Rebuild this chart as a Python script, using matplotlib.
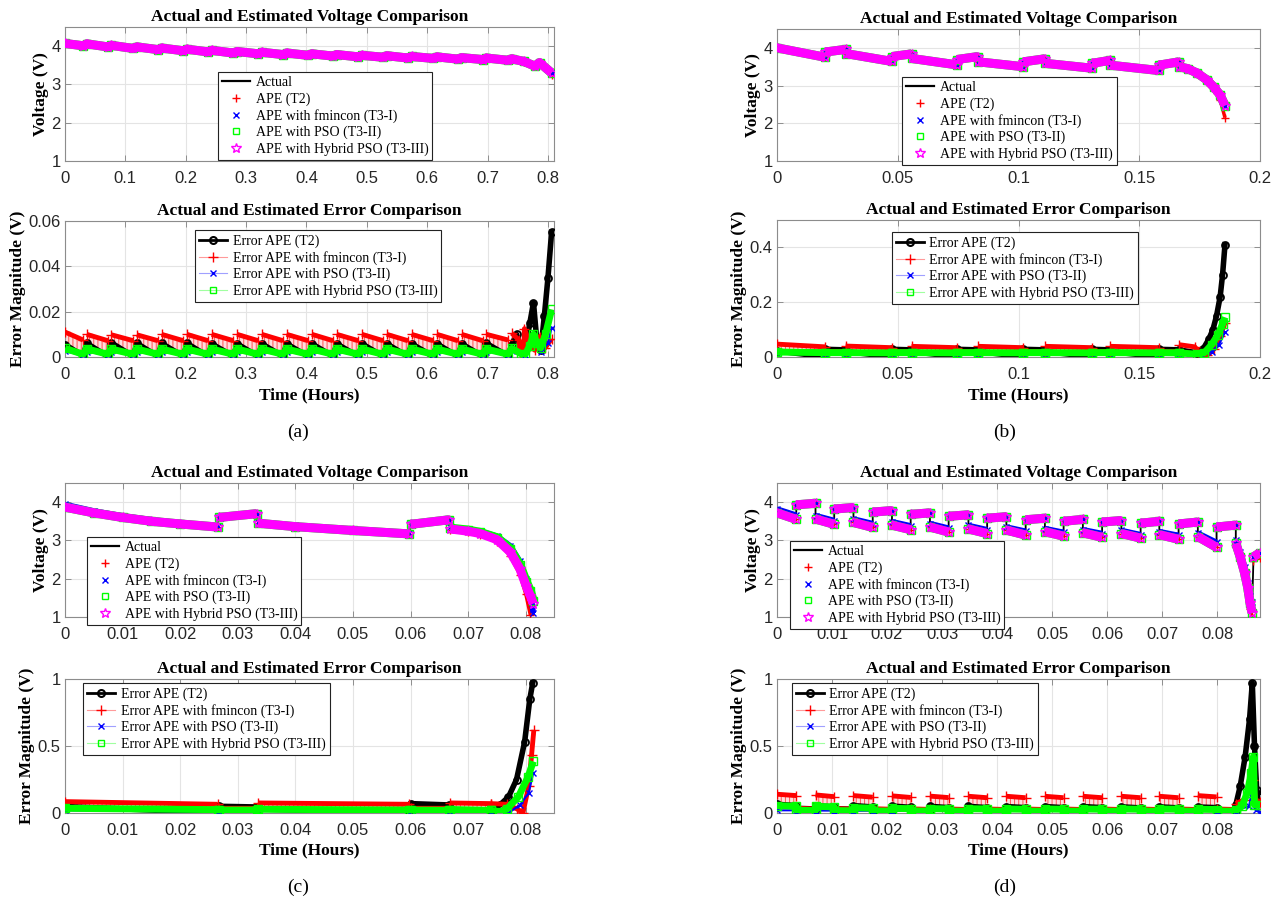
import numpy as np
import matplotlib
matplotlib.use("Agg")
import matplotlib.pyplot as plt
from matplotlib.lines import Line2D
from matplotlib.ticker import FormatStrFormatter

plt.rcParams['font.family'] = ['Liberation Sans', 'DejaVu Sans']
plt.rcParams['hatch.linewidth'] = 0.7
SERIF = ['Liberation Serif', 'DejaVu Serif']
RED, BLUE, GREEN, MAG = '#ff0000', '#0000ff', '#00ff00', '#ff00ff'

# ---------------- (a) 0.8 h test ----------------
a_pk_t = [0.000, 0.036, 0.077, 0.119, 0.160, 0.202, 0.243, 0.285, 0.326, 0.367,
          0.409, 0.450, 0.492, 0.533, 0.574, 0.616, 0.657, 0.698, 0.740]
a_vl_t = [0.030, 0.071, 0.113, 0.154, 0.196, 0.237, 0.279, 0.320, 0.361, 0.403,
          0.444, 0.486, 0.527, 0.568, 0.610, 0.651, 0.692, 0.734]
a_pk_v = [4.07, 4.06, 4.02, 3.98, 3.95, 3.92, 3.89, 3.86, 3.84, 3.82,
          3.80, 3.78, 3.76, 3.75, 3.73, 3.72, 3.70, 3.69, 3.67]
a_vl_v = [4.01, 3.98, 3.94, 3.91, 3.88, 3.85, 3.82, 3.80, 3.78, 3.76,
          3.74, 3.72, 3.71, 3.69, 3.68, 3.66, 3.65, 3.63]
a_tail_t = [0.760, 0.778, 0.786, 0.806]
a_tail_v = [3.60, 3.48, 3.57, 3.30]
a_tail_r = [3.59, 3.47, 3.55, 3.24]

a_blk_pk = [0.0055, 0.0060, 0.0062, 0.0060, 0.0060, 0.0060, 0.0058, 0.0058, 0.0058, 0.0058,
            0.0058, 0.0058, 0.0058, 0.0058, 0.0058, 0.0058, 0.0058, 0.0060, 0.0055]
a_blk_vl = [0.0005, 0.0003, 0.0003, 0.0003, 0.0003, 0.0003, 0.0003, 0.0003, 0.0003,
            0.0003, 0.0003, 0.0003, 0.0003, 0.0003, 0.0003, 0.0003, 0.0003, 0.0005]
a_red_hi0 = [0.0110, 0.0100, 0.0098, 0.0098, 0.0100, 0.0100, 0.0100, 0.0100, 0.0100,
             0.0100, 0.0100, 0.0100, 0.0100, 0.0100, 0.0100, 0.0100, 0.0100, 0.0100]
a_red_hi1 = [0.0075, 0.0072, 0.0072, 0.0072, 0.0072, 0.0072, 0.0072, 0.0072, 0.0072,
             0.0072, 0.0072, 0.0072, 0.0072, 0.0072, 0.0072, 0.0072, 0.0072, 0.0075]
a_red_lo = [0.0030, 0.0028, 0.0028, 0.0028, 0.0028, 0.0028, 0.0028, 0.0028, 0.0028,
            0.0028, 0.0028, 0.0028, 0.0028, 0.0028, 0.0028, 0.0028, 0.0028, 0.0030]
a_grn_pk = [0.0038, 0.0036, 0.0035, 0.0035, 0.0035, 0.0035, 0.0035, 0.0035, 0.0035, 0.0035,
            0.0035, 0.0035, 0.0035, 0.0035, 0.0035, 0.0035, 0.0035, 0.0035, 0.0038]
a_grn_vl = [0.0012, 0.0012, 0.0012, 0.0012, 0.0012, 0.0012, 0.0012, 0.0012, 0.0012,
            0.0012, 0.0012, 0.0012, 0.0012, 0.0012, 0.0012, 0.0012, 0.0012, 0.0012]
a_blu_pk = [0.0025, 0.0024, 0.0024, 0.0024, 0.0024, 0.0024, 0.0024, 0.0024, 0.0024, 0.0024,
            0.0024, 0.0024, 0.0024, 0.0024, 0.0024, 0.0024, 0.0024, 0.0024, 0.0025]
a_blu_vl = [0.0008, 0.0008, 0.0008, 0.0008, 0.0008, 0.0008, 0.0008, 0.0008, 0.0008,
            0.0008, 0.0008, 0.0008, 0.0008, 0.0008, 0.0008, 0.0008, 0.0008, 0.0008]
a_blk_tail_t = [0.748, 0.756, 0.764, 0.770, 0.776, 0.782, 0.788, 0.794, 0.800, 0.806]
a_blk_tail_v = [0.0100, 0.0030, 0.0060, 0.0150, 0.0240, 0.0060, 0.0030, 0.0180, 0.0350, 0.0550]
a_red_tail_t = [0.740, 0.752, 0.753, 0.760, 0.761, 0.770, 0.778, 0.786, 0.795, 0.806]
a_red_tail_v = [0.0105, 0.0075, 0.0020, 0.0040, 0.0125, 0.0060, 0.0030, 0.0090, 0.0040, 0.0080]
a_grn_tail_t = [0.755, 0.762, 0.770, 0.776, 0.782, 0.788, 0.796, 0.806]
a_grn_tail_v = [0.0015, 0.0010, 0.0050, 0.0100, 0.0060, 0.0040, 0.0100, 0.0210]
a_blu_tail_t = [0.762, 0.776, 0.788, 0.800, 0.806]
a_blu_tail_v = [0.0010, 0.0070, 0.0020, 0.0060, 0.0130]

# ---------------- (b) 0.2 h test ----------------
b_t0 = [0.0000, 0.0200, 0.0284, 0.0476, 0.0557, 0.0744, 0.0833, 0.1020, 0.1110, 0.1305, 0.1380, 0.1580]
b_t1 = [0.0200, 0.0284, 0.0476, 0.0557, 0.0744, 0.0833, 0.1020, 0.1110, 0.1305, 0.1380, 0.1580, 0.1665]
b_v0 = [4.00, 3.89, 3.85, 3.77, 3.72, 3.69, 3.63, 3.63, 3.59, 3.59, 3.54, 3.54]
b_v1 = [3.75, 3.96, 3.64, 3.84, 3.55, 3.77, 3.50, 3.71, 3.46, 3.67, 3.40, 3.63]
b_tail_t = [0.1665, 0.1700, 0.1740, 0.1780, 0.1810, 0.1835, 0.1855]
b_tail_v = [3.50, 3.45, 3.33, 3.15, 2.95, 2.75, 2.47]
b_tail_r = [3.49, 3.43, 3.30, 3.10, 2.88, 2.62, 2.15]

b_blk0 = [0.022, 0.028, 0.020, 0.028, 0.020, 0.028, 0.020, 0.028, 0.020, 0.028, 0.020, 0.028]
b_blk1 = [0.001, 0.026, 0.001, 0.026, 0.001, 0.026, 0.001, 0.026, 0.001, 0.026, 0.001, 0.026]
b_red0 = [0.047, 0.020, 0.040, 0.020, 0.039, 0.020, 0.039, 0.020, 0.039, 0.020, 0.039, 0.020]
b_red1 = [0.037, 0.020, 0.034, 0.020, 0.034, 0.020, 0.034, 0.020, 0.034, 0.020, 0.034, 0.020]
b_redlo = [0.022, 0.020, 0.022, 0.020, 0.022, 0.020, 0.022, 0.020, 0.022, 0.020, 0.022, 0.020]
b_grn0 = [0.018, 0.016, 0.016, 0.016, 0.016, 0.016, 0.016, 0.016, 0.016, 0.016, 0.016, 0.016]
b_grn1 = [0.016, 0.016, 0.015, 0.016, 0.015, 0.016, 0.015, 0.016, 0.015, 0.016, 0.015, 0.015]
b_blu0 = [0.013, 0.012, 0.012, 0.012, 0.012, 0.012, 0.012, 0.012, 0.012, 0.012, 0.012, 0.012]
b_blu1 = [0.011, 0.012, 0.011, 0.012, 0.011, 0.012, 0.011, 0.012, 0.011, 0.012, 0.011, 0.012]
b_blk_tail_t = [0.1665, 0.1740, 0.1765, 0.1788, 0.1805, 0.1820, 0.1835, 0.1845, 0.1855]
b_blk_tail_v = [0.026, 0.015, 0.030, 0.065, 0.100, 0.150, 0.220, 0.300, 0.410]
b_red_tail_t = [0.1665, 0.1730, 0.1745, 0.1780, 0.1810, 0.1835, 0.1855]
b_red_tail_v = [0.045, 0.037, 0.020, 0.006, 0.030, 0.075, 0.125]
b_grn_tail_t = [0.1665, 0.1740, 0.1770, 0.1800, 0.1825, 0.1845, 0.1855]
b_grn_tail_v = [0.015, 0.010, 0.016, 0.045, 0.080, 0.120, 0.145]
b_blu_tail_t = [0.1665, 0.1760, 0.1800, 0.1830, 0.1855]
b_blu_tail_v = [0.012, 0.006, 0.020, 0.045, 0.090]

# ---------------- (c) 0.08 h test, two long pulses ----------------
c_d1_t = [0.0000, 0.0050, 0.0100, 0.0150, 0.0200, 0.0265]
c_d1_v = [3.87, 3.72, 3.60, 3.50, 3.43, 3.35]
c_d1_a = [3.94, 3.77, 3.64, 3.54, 3.46, 3.38]
c_r1_t = [0.0267, 0.0333]
c_r1_v = [3.60, 3.70]
c_d2_t = [0.0335, 0.0400, 0.0500, 0.0598]
c_d2_v = [3.45, 3.36, 3.26, 3.17]
c_d2_a = [3.48, 3.39, 3.29, 3.20]
c_r2_t = [0.0600, 0.0667]
c_r2_v = [3.42, 3.54]
c_d3_t = [0.0669, 0.0700, 0.0721, 0.0750, 0.0773, 0.0790, 0.0801, 0.0808, 0.0813]
c_d3_v = [3.30, 3.24, 3.18, 3.02, 2.70, 2.25, 1.80, 1.55, 1.35]
c_d3_a = [3.34, 3.29, 3.24, 3.11, 2.86, 2.45, 2.00, 1.70, 1.10]
c_d3_g = [3.32, 3.27, 3.21, 3.07, 2.78, 2.35, 1.92, 1.68, 1.42]
c_d3_rt = [0.0669, 0.0700, 0.0721, 0.0750, 0.0773, 0.0790, 0.0800, 0.0808]
c_d3_r = [3.28, 3.22, 3.15, 2.97, 2.60, 2.10, 1.60, 1.05]

c_s0 = [0.0000, 0.0267, 0.0335, 0.0600, 0.0669]
c_s1 = [0.0265, 0.0333, 0.0598, 0.0667, 0.0740]
c_blk0 = [0.048, 0.050, 0.030, 0.070, 0.012]
c_blk1 = [0.002, 0.045, 0.002, 0.060, 0.020]
c_red0 = [0.085, 0.035, 0.075, 0.035, 0.075]
c_red1 = [0.065, 0.035, 0.065, 0.035, 0.070]
c_redlo = [0.045, 0.035, 0.045, 0.035, 0.045]
c_grn0 = [0.035, 0.022, 0.028, 0.022, 0.026]
c_grn1 = [0.025, 0.022, 0.022, 0.020, 0.020]
c_blu0 = [0.020, 0.015, 0.015, 0.015, 0.015]
c_blu1 = [0.010, 0.012, 0.010, 0.012, 0.010]
c_blk_tail_t = [0.0740, 0.0755, 0.0770, 0.0784, 0.0798, 0.0807, 0.0812]
c_blk_tail_v = [0.020, 0.060, 0.120, 0.250, 0.530, 0.850, 0.970]
c_red_tail_t = [0.0740, 0.0767, 0.0785, 0.0795, 0.0805, 0.0810, 0.0814]
c_red_tail_v = [0.070, 0.065, 0.030, 0.000, 0.200, 0.430, 0.620]
c_grn_tail_t = [0.0740, 0.0755, 0.0767, 0.0787, 0.0804, 0.0813]
c_grn_tail_v = [0.020, 0.008, 0.030, 0.120, 0.270, 0.385]
c_blu_tail_t = [0.0740, 0.0770, 0.0790, 0.0805, 0.0813]
c_blu_tail_v = [0.010, 0.000, 0.060, 0.150, 0.300]

# ---------------- (d) 0.088 h test, short pulses ----------------
d_lo_start = [0.0000, 0.0070, 0.0139, 0.0209, 0.0278, 0.0348, 0.0417, 0.0487, 0.0556, 0.0626, 0.0695, 0.0765]
d_up = [0.0035, 0.0104, 0.0174, 0.0243, 0.0312, 0.0382, 0.0452, 0.0521, 0.0591, 0.0661, 0.0730, 0.0799]
d_hi_end = [0.0070, 0.0139, 0.0209, 0.0278, 0.0348, 0.0417, 0.0487, 0.0556, 0.0626, 0.0695, 0.0765, 0.0834]
d_lo_v0 = [3.72, 3.56, 3.47, 3.40, 3.35, 3.30, 3.27, 3.23, 3.20, 3.18, 3.15, 3.10]
d_lo_v1 = [3.55, 3.42, 3.34, 3.28, 3.22, 3.18, 3.14, 3.11, 3.08, 3.06, 3.03, 2.82]
d_lo_a0 = [3.82, 3.65, 3.56, 3.49, 3.44, 3.39, 3.35, 3.31, 3.28, 3.26, 3.23, 3.19]
d_lo_a1 = [3.66, 3.52, 3.44, 3.38, 3.32, 3.28, 3.24, 3.21, 3.18, 3.15, 3.13, 2.95]
d_hi_v0 = [3.93, 3.82, 3.74, 3.68, 3.63, 3.58, 3.54, 3.50, 3.48, 3.45, 3.43, 3.35]
d_hi_v1 = [3.97, 3.86, 3.78, 3.72, 3.67, 3.62, 3.58, 3.55, 3.52, 3.50, 3.48, 3.40]
d_tail_t = [0.0834, 0.0842, 0.0850, 0.0856, 0.0860, 0.0864]
d_tail_v = [2.92, 2.57, 2.15, 1.75, 1.36, 1.10]
d_tail_a = [3.00, 2.70, 2.30, 1.90, 1.55, 1.40]
d_tail_r = [2.88, 2.50, 2.05, 1.60, 1.20, 1.00]
d_end_t = [0.0866, 0.0878]
d_end_v = [2.57, 2.68]
d_end_r = [2.47, 2.55]

d_red_lo0 = [0.140, 0.135, 0.130, 0.128, 0.126, 0.125, 0.125, 0.125, 0.125, 0.125, 0.125, 0.130]
d_red_lo1 = [0.130, 0.122, 0.118, 0.116, 0.115, 0.114, 0.114, 0.114, 0.114, 0.114, 0.114, 0.120]
d_red_bot = [0.050, 0.050, 0.050, 0.050, 0.050, 0.050, 0.050, 0.050, 0.050, 0.050, 0.050, 0.050]
d_red_hi0 = [0.035, 0.033, 0.032, 0.031, 0.030, 0.030, 0.030, 0.030, 0.030, 0.030, 0.030, 0.030]
d_red_hi1 = [0.030, 0.029, 0.028, 0.027, 0.026, 0.026, 0.026, 0.026, 0.026, 0.026, 0.026, 0.026]
d_blk_lo0 = [0.065, 0.055, 0.055, 0.052, 0.050, 0.050, 0.048, 0.048, 0.048, 0.046, 0.046, 0.045]
d_blk_lo1 = [0.055, 0.045, 0.045, 0.042, 0.040, 0.040, 0.040, 0.040, 0.040, 0.038, 0.038, 0.040]
d_blk_hi0 = [0.035, 0.032, 0.005, 0.004, 0.003, 0.003, 0.002, 0.002, 0.002, 0.002, 0.002, 0.002]
d_blk_hi1 = [0.030, 0.028, 0.000, 0.000, 0.000, 0.000, 0.000, 0.000, 0.000, 0.000, 0.000, 0.000]
d_grn_lo0 = [0.055, 0.050, 0.040, 0.035, 0.033, 0.032, 0.030, 0.030, 0.030, 0.030, 0.030, 0.028]
d_grn_lo1 = [0.050, 0.045, 0.036, 0.032, 0.030, 0.030, 0.028, 0.028, 0.028, 0.028, 0.028, 0.026]
d_grn_hi0 = [0.020, 0.018, 0.015, 0.015, 0.014, 0.014, 0.014, 0.014, 0.014, 0.014, 0.014, 0.014]
d_grn_hi1 = [0.018, 0.016, 0.014, 0.014, 0.013, 0.013, 0.013, 0.013, 0.013, 0.013, 0.013, 0.013]
d_blu_lo0 = [0.020, 0.018, 0.017, 0.016, 0.016, 0.016, 0.016, 0.016, 0.016, 0.016, 0.016, 0.016]
d_blu_hi0 = [0.010, 0.010, 0.010, 0.010, 0.010, 0.010, 0.010, 0.010, 0.010, 0.010, 0.010, 0.010]
d_blk_tail_t = [0.0834, 0.0842, 0.0851, 0.0859, 0.0864, 0.0868, 0.0872, 0.0878]
d_blk_tail_v = [0.060, 0.200, 0.420, 0.700, 0.970, 0.500, 0.170, 0.120]
d_grn_tail_t = [0.0834, 0.0845, 0.0855, 0.0862, 0.0866, 0.0868, 0.0878]
d_grn_tail_v = [0.020, 0.050, 0.150, 0.300, 0.420, 0.060, 0.060]
d_red_tail_t = [0.0834, 0.0850, 0.0862, 0.0866, 0.0870, 0.0878]
d_red_tail_v = [0.070, 0.100, 0.200, 0.250, 0.100, 0.080]
d_blu_tail_t = [0.0834, 0.0858, 0.0866, 0.0870, 0.0878]
d_blu_tail_v = [0.020, 0.050, 0.220, 0.020, 0.010]


def alt(a, b):
    out = []
    for x, y in zip(a, b):
        out += [x, y]
    return out


def segs(t0, t1, v0, v1, gap=True):
    t, v = [], []
    for a, b, c, d in zip(t0, t1, v0, v1):
        t += [a, b]
        v += [c, d]
        if gap:
            t.append(np.nan)
            v.append(np.nan)
    return t, v


def join(*pieces, gap=True):
    t, v = [], []
    for pt, pv in pieces:
        t += list(pt)
        v += list(pv)
        if gap:
            t.append(np.nan)
            v.append(np.nan)
    return np.array(t, float), np.array(v, float)


def style(ax, xmax, ymin, ymax, xticks, yticks, title):
    ax.set_xlim(0, xmax)
    ax.set_ylim(ymin, ymax)
    ax.set_xticks(xticks)
    ax.set_yticks(yticks)
    ax.xaxis.set_major_formatter(FormatStrFormatter('%g'))
    ax.yaxis.set_major_formatter(FormatStrFormatter('%g'))
    ax.grid(True, color='#e4e4e4', lw=0.8)
    ax.set_axisbelow(True)
    ax.tick_params(direction='in', top=True, right=True, length=4, width=0.6,
                   color='#808080', labelsize=12, labelcolor='#262626')
    ax.tick_params(axis='x', pad=7)
    ax.tick_params(axis='y', pad=3)
    for s in ax.spines.values():
        s.set_color('#8c8c8c')
        s.set_linewidth(0.8)
    ax.set_title(title, family=SERIF, fontweight='bold', fontsize=12.5, pad=4)


def volt(ax, act, red, blue, green, mag):
    ax.plot(*act, color='k', lw=1.3, zorder=3)
    ax.plot(*red, color=RED, lw=2.5, marker='+', ms=6, mew=1, zorder=4, solid_capstyle='butt')
    ax.plot(*blue, color=BLUE, lw=4, marker='x', ms=5, mew=1, zorder=5, solid_capstyle='butt')
    ax.plot(*green, color=GREEN, lw=6.5, marker='s', ms=6, mfc='none', mew=1, zorder=6,
            solid_capstyle='butt')
    ax.plot(*mag, color=MAG, lw=6.5, marker='*', ms=7, mfc='none', mew=1, zorder=7,
            solid_capstyle='butt')


def err(ax, blk, red, fill, blue, green):
    ax.plot(*blk, color='k', lw=4, marker='o', ms=5, mfc='none', mew=1.3, zorder=3)
    ax.fill_between(fill[0], fill[1], fill[2], facecolor='#ffdcdc', edgecolor='#ff5050',
                    hatch='||||', lw=0, zorder=2)
    ax.plot(*red, color=RED, lw=3.5, marker='+', ms=7, mew=1, zorder=4, solid_capstyle='butt')
    ax.plot(*blue, color=BLUE, lw=1.5, marker='x', ms=5, mew=1, zorder=5)
    ax.plot(*green, color=GREEN, lw=5, marker='s', ms=6, mfc='none', mew=1, zorder=6,
            solid_capstyle='butt')


volt_labels = ['Actual', 'APE (T2)', 'APE with fmincon (T3-I)', 'APE with PSO (T3-II)',
               'APE with Hybrid PSO (T3-III)']
err_labels = ['Error APE (T2)', 'Error APE with fmincon (T3-I)', 'Error APE with PSO (T3-II)',
              'Error APE with Hybrid PSO (T3-III)']
volt_h = [Line2D([], [], color='k', lw=1.6),
          Line2D([], [], ls='none', marker='+', color=RED, ms=6),
          Line2D([], [], ls='none', marker='x', color=BLUE, ms=5),
          Line2D([], [], ls='none', marker='s', mec=GREEN, mfc='none', ms=5),
          Line2D([], [], ls='none', marker='*', mec=MAG, mfc='none', ms=7)]
err_h = [Line2D([], [], color='k', lw=2, marker='o', ms=5, mfc='none', mew=1.5),
         Line2D([], [], color='#ff9a9a', lw=0.8, marker='+', mec=RED, ms=7),
         Line2D([], [], color='#a0a0ff', lw=0.8, marker='x', mec=BLUE, ms=5),
         Line2D([], [], color='#a0ffa0', lw=0.8, marker='s', mec=GREEN, mfc='none', ms=5)]


def legend(ax, handles, labels, anchor):
    lg = ax.legend(handles, labels, loc='upper left', bbox_to_anchor=anchor,
                   prop={'family': SERIF, 'size': 10}, fancybox=False, framealpha=1,
                   edgecolor='#222222', borderpad=0.3, labelspacing=0.22,
                   handlelength=2.0, handletextpad=0.4, borderaxespad=0)
    lg.get_frame().set_linewidth(0.8)
    lg.set_zorder(20)


W, H = 1282, 901
fig = plt.figure(figsize=(W / 100, H / 100), dpi=100)


def axes_px(x0, x1, y0, y1):
    return fig.add_axes([x0 / W, 1 - y1 / H, (x1 - x0) / W, (y1 - y0) / H])


axAV = axes_px(65, 554, 27, 161)
axAE = axes_px(65, 554, 221, 357)
axBV = axes_px(777, 1260, 29, 161)
axBE = axes_px(777, 1260, 220, 357)
axCV = axes_px(65, 554, 483, 617)
axCE = axes_px(65, 554, 679, 813)
axDV = axes_px(777, 1260, 483, 617)
axDE = axes_px(777, 1260, 679, 813)

VT = 'Actual and Estimated Voltage Comparison'
ET = 'Actual and Estimated Error Comparison'

# ---- (a)
a_t = alt(a_pk_t[:-1], a_vl_t) + [a_pk_t[-1]] + a_tail_t
a_v = alt(a_pk_v[:-1], a_vl_v) + [a_pk_v[-1]] + a_tail_v
a_r = alt(a_pk_v[:-1], a_vl_v) + [a_pk_v[-1]] + a_tail_r
av = (np.array(a_t), np.array(a_v))
volt(axAV, av, (np.array(a_t), np.array(a_r)), av, av, av)
style(axAV, 0.81, 1, 4.5, np.arange(0, 0.81, 0.1), [1, 2, 3, 4], VT)

a_et = alt(a_pk_t[:-1], a_vl_t) + [a_pk_t[-1]]
e_blk = join((a_et + a_blk_tail_t, alt(a_blk_pk[:-1], a_blk_vl) + [a_blk_pk[-1]] + a_blk_tail_v), gap=False)
e_grn = join((a_et + a_grn_tail_t, alt(a_grn_pk[:-1], a_grn_vl) + [a_grn_pk[-1]] + a_grn_tail_v), gap=False)
e_blu = join((a_et + a_blu_tail_t, alt(a_blu_pk[:-1], a_blu_vl) + [a_blu_pk[-1]] + a_blu_tail_v), gap=False)
rt, rv = segs(a_pk_t[:-1], a_vl_t, a_red_hi0, a_red_hi1)
e_red = join((rt, rv), (a_red_tail_t, a_red_tail_v))
ft, flo = segs(a_pk_t[:-1], a_vl_t, a_red_lo, a_red_lo)
err(axAE, e_blk, e_red, (np.array(ft, float), np.array(flo, float), np.array(rv, float)), e_blu, e_grn)
style(axAE, 0.81, 0, 0.06, np.arange(0, 0.81, 0.1), [0, 0.02, 0.04, 0.06], ET)

# ---- (b)
bt, bv = segs(b_t0, b_t1, b_v0, b_v1)
bta, bva = segs(b_t0, b_t1, b_v0, b_v1, gap=False)
b_act = join((bta + b_tail_t, bva + b_tail_v), gap=False)
b_est = join((bt, bv), (b_tail_t, b_tail_v))
b_red = join((bt, bv), (b_tail_t, b_tail_r))
volt(axBV, b_act, b_red, b_est, b_est, b_est)
style(axBV, 0.2, 1, 4.5, [0, 0.05, 0.1, 0.15, 0.2], [1, 2, 3, 4], VT)

t1_, v1_ = segs(b_t0, b_t1, b_blk0, b_blk1, gap=False)
eb_blk = join((t1_ + b_blk_tail_t, v1_ + b_blk_tail_v), gap=False)
t2_, v2_ = segs(b_t0, b_t1, b_red0, b_red1)
eb_red = join((t2_, v2_), (b_red_tail_t, b_red_tail_v))
_, v3_ = segs(b_t0, b_t1, b_redlo, b_redlo)
t4_, v4_ = segs(b_t0, b_t1, b_grn0, b_grn1, gap=False)
eb_grn = join((t4_ + b_grn_tail_t, v4_ + b_grn_tail_v), gap=False)
t5_, v5_ = segs(b_t0, b_t1, b_blu0, b_blu1, gap=False)
eb_blu = join((t5_ + b_blu_tail_t, v5_ + b_blu_tail_v), gap=False)
err(axBE, eb_blk, eb_red, (np.array(t2_, float), np.array(v3_, float), np.array(v2_, float)), eb_blu, eb_grn)
style(axBE, 0.2, 0, 0.5, [0, 0.05, 0.1, 0.15, 0.2], [0, 0.2, 0.4], ET)

# ---- (c)
c_act = join((c_d1_t, c_d1_a), (c_r1_t, c_r1_v), (c_d2_t, c_d2_a), (c_r2_t, c_r2_v),
             (c_d3_t, c_d3_a), gap=False)
c_blu = join((c_d1_t, c_d1_a), (c_r1_t, c_r1_v), (c_d2_t, c_d2_a), (c_r2_t, c_r2_v), (c_d3_t, c_d3_a))
c_mag = join((c_d1_t, c_d1_v), (c_r1_t, c_r1_v), (c_d2_t, c_d2_v), (c_r2_t, c_r2_v), (c_d3_t, c_d3_v))
c_grn = join((c_d1_t, c_d1_v), (c_r1_t, c_r1_v), (c_d2_t, c_d2_v), (c_r2_t, c_r2_v), (c_d3_t, c_d3_g))
c_red = join((c_d1_t, c_d1_v), (c_r1_t, c_r1_v), (c_d2_t, c_d2_v), (c_r2_t, c_r2_v), (c_d3_rt, c_d3_r))
volt(axCV, c_act, c_red, c_blu, c_grn, c_mag)
style(axCV, 0.0849, 1, 4.5, np.arange(0, 0.081, 0.01), [1, 2, 3, 4], VT)

t1_, v1_ = segs(c_s0, c_s1, c_blk0, c_blk1, gap=False)
ec_blk = join((t1_ + c_blk_tail_t, v1_ + c_blk_tail_v), gap=False)
t2_, v2_ = segs(c_s0, c_s1, c_red0, c_red1)
ec_red = join((t2_, v2_), (c_red_tail_t, c_red_tail_v))
_, v3_ = segs(c_s0, c_s1, c_redlo, c_redlo)
t4_, v4_ = segs(c_s0, c_s1, c_grn0, c_grn1, gap=False)
ec_grn = join((t4_ + c_grn_tail_t, v4_ + c_grn_tail_v), gap=False)
t5_, v5_ = segs(c_s0, c_s1, c_blu0, c_blu1, gap=False)
ec_blu = join((t5_ + c_blu_tail_t, v5_ + c_blu_tail_v), gap=False)
err(axCE, ec_blk, ec_red, (np.array(t2_, float), np.array(v3_, float), np.array(v2_, float)), ec_blu, ec_grn)
style(axCE, 0.0849, 0, 1, np.arange(0, 0.081, 0.01), [0, 0.5, 1], ET)

# ---- (d)
d_s0 = alt(d_lo_start, d_up)
d_s1 = alt(d_up, d_hi_end)
ta, va = segs(d_s0, d_s1, alt(d_lo_a0, d_hi_v0), alt(d_lo_a1, d_hi_v1), gap=False)
d_act = join((ta + d_tail_t + d_end_t, va + d_tail_a + d_end_r), gap=False)
tb, vb = segs(d_s0, d_s1, alt(d_lo_a0, d_hi_v0), alt(d_lo_a1, d_hi_v1))
d_blu = join((tb, vb), (d_tail_t, d_tail_a), (d_end_t, d_end_v))
tm, vm = segs(d_s0, d_s1, alt(d_lo_v0, d_hi_v0), alt(d_lo_v1, d_hi_v1))
d_mag = join((tm, vm), (d_tail_t, d_tail_v), (d_end_t, d_end_v))
d_red = join((tm, vm), (d_tail_t, d_tail_r), (d_end_t, d_end_r))
volt(axDV, d_act, d_red, d_blu, d_mag, d_mag)
style(axDV, 0.0878, 1, 4.5, np.arange(0, 0.081, 0.01), [1, 2, 3, 4], VT)

t1_, v1_ = segs(d_s0, d_s1, alt(d_blk_lo0, d_blk_hi0), alt(d_blk_lo1, d_blk_hi1), gap=False)
ed_blk = join((t1_ + d_blk_tail_t, v1_ + d_blk_tail_v), gap=False)
t2_, v2_ = segs(d_s0, d_s1, alt(d_red_lo0, d_red_hi0), alt(d_red_lo1, d_red_hi1))
ed_red = join((t2_, v2_), (d_red_tail_t, d_red_tail_v))
_, v3_ = segs(d_s0, d_s1, alt(d_red_bot, d_red_hi0), alt(d_red_bot, d_red_hi1))
t4_, v4_ = segs(d_s0, d_s1, alt(d_grn_lo0, d_grn_hi0), alt(d_grn_lo1, d_grn_hi1), gap=False)
ed_grn = join((t4_ + d_grn_tail_t, v4_ + d_grn_tail_v), gap=False)
t5_, v5_ = segs(d_s0, d_s1, alt(d_blu_lo0, d_blu_hi0), alt(d_blu_lo0, d_blu_hi0), gap=False)
ed_blu = join((t5_ + d_blu_tail_t, v5_ + d_blu_tail_v), gap=False)
err(axDE, ed_blk, ed_red, (np.array(t2_, float), np.array(v3_, float), np.array(v2_, float)), ed_blu, ed_grn)
style(axDE, 0.0878, 0, 1, np.arange(0, 0.081, 0.01), [0, 0.5, 1], ET)

# legends
legend(axAV, volt_h, volt_labels, (0.313, 0.664))
legend(axAE, err_h, err_labels, (0.266, 0.934))
legend(axBV, volt_h, volt_labels, (0.259, 0.636))
legend(axBE, err_h, err_labels, (0.238, 0.912))
legend(axCV, volt_h, volt_labels, (0.045, 0.597))
legend(axCE, err_h, err_labels, (0.037, 0.970))
legend(axDV, volt_h, volt_labels, (0.027, 0.567))
legend(axDE, err_h, err_labels, (0.031, 0.970))

# axis labels
lab = dict(family=SERIF, fontweight='bold', fontsize=12.5)
for ax in [axAV, axBV, axCV, axDV]:
    ax.set_ylabel('Voltage (V)', labelpad=2, **lab)
for ax in [axAE, axBE, axCE, axDE]:
    ax.set_ylabel('Error Magnitude (V)', labelpad=2, **lab)
    ax.set_xlabel('Time (Hours)', **lab)
    ax.xaxis.set_label_coords(0.5, -0.22)

for s, x, y in [('(a)', 298, 432), ('(b)', 1005, 432), ('(c)', 298, 887), ('(d)', 1005, 887)]:
    fig.text(x / W, 1 - y / H, s, ha='center', va='center', family=SERIF, fontsize=14)

fig.savefig('out.png', dpi=100)
